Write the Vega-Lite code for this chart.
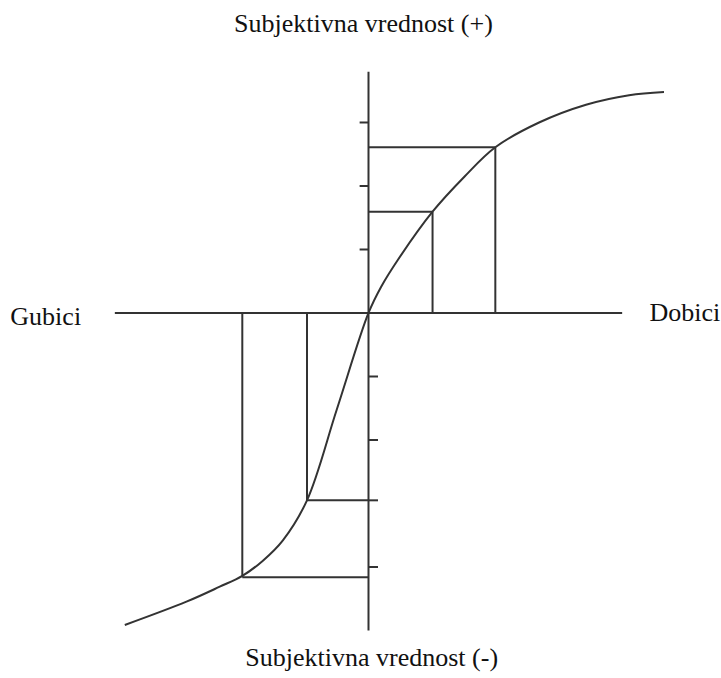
{
  "$schema": "https://vega.github.io/schema/vega-lite/v6.json",
  "width": 721,
  "height": 678,
  "autosize": {"type": "fit", "contains": "padding"},
  "padding": 0,
  "background": "white",
  "config": {"view": {"stroke": null}},
  "datasets": {
    "segs": [
      {"x1": -4.0, "y1": 0, "x2": 4.0, "y2": 0},
      {"x1": 0, "y1": 3.8, "x2": 0, "y2": -5.0},
      {"x1": -0.14, "y1": 1, "x2": 0, "y2": 1},
      {"x1": -0.14, "y1": 2, "x2": 0, "y2": 2},
      {"x1": -0.14, "y1": 3, "x2": 0, "y2": 3},
      {"x1": 0, "y1": -1, "x2": 0.15, "y2": -1},
      {"x1": 0, "y1": -2, "x2": 0.15, "y2": -2},
      {"x1": 0, "y1": -2.95, "x2": 0.15, "y2": -2.95},
      {"x1": 0, "y1": -4, "x2": 0.15, "y2": -4},
      {"x1": 0, "y1": 1.595, "x2": 1.01, "y2": 1.595},
      {"x1": 1.01, "y1": 1.595, "x2": 1.01, "y2": 0},
      {"x1": 0, "y1": 2.61, "x2": 2.0, "y2": 2.61},
      {"x1": 2.0, "y1": 2.61, "x2": 2.0, "y2": 0},
      {"x1": -0.97, "y1": 0, "x2": -0.97, "y2": -2.95},
      {"x1": -0.97, "y1": -2.95, "x2": 0, "y2": -2.95},
      {"x1": -1.99, "y1": 0, "x2": -1.99, "y2": -4.16},
      {"x1": -1.99, "y1": -4.16, "x2": 0, "y2": -4.16}
    ],
    "curve": [
      {"x": -3.843, "y": -4.913},
      {"x": -2.871, "y": -4.546},
      {"x": -2.346, "y": -4.31},
      {"x": -1.99, "y": -4.14},
      {"x": -1.665, "y": -3.9},
      {"x": -1.35, "y": -3.58},
      {"x": -0.97, "y": -2.95},
      {"x": -0.5, "y": -1.52},
      {"x": 0.0, "y": 0.0},
      {"x": 0.2, "y": 0.414},
      {"x": 0.462, "y": 0.835},
      {"x": 1.01, "y": 1.595},
      {"x": 1.512, "y": 2.146},
      {"x": 2.0, "y": 2.61},
      {"x": 2.69, "y": 3.0},
      {"x": 3.43, "y": 3.28},
      {"x": 4.11, "y": 3.43},
      {"x": 4.66, "y": 3.48}
    ],
    "labels": [
      {"label": "Subjektivna vrednost (+)", "x": -0.08, "y": 4.55, "align": "center"},
      {"label": "Subjektivna vrednost (-)", "x": 0.05, "y": -5.43, "align": "center"},
      {"label": "Gubici", "x": -5.09, "y": -0.06, "align": "center"},
      {"label": "Dobici", "x": 4.43, "y": 0.0, "align": "left"}
    ]
  },
  "layer": [
    {
      "data": {"name": "segs"},
      "mark": {"type": "rule", "color": "#333333", "strokeWidth": 2},
      "encoding": {
        "x": {"field": "x1", "type": "quantitative", "scale": {"domain": [-5.811, 5.543], "nice": false, "zero": false}, "axis": null},
        "y": {"field": "y1", "type": "quantitative", "scale": {"domain": [-5.748, 4.929], "nice": false, "zero": false}, "axis": null},
        "x2": {"field": "x2"},
        "y2": {"field": "y2"}
      }
    },
    {
      "data": {"name": "curve"},
      "mark": {"type": "line", "color": "#333333", "strokeWidth": 2, "interpolate": "catmull-rom"},
      "encoding": {
        "x": {"field": "x", "type": "quantitative", "scale": {"domain": [-5.811, 5.543], "nice": false, "zero": false}, "axis": null},
        "y": {"field": "y", "type": "quantitative", "scale": {"domain": [-5.748, 4.929], "nice": false, "zero": false}, "axis": null},
        "order": {"field": "x", "type": "quantitative"}
      }
    },
    {
      "data": {"name": "labels"},
      "transform": [{"filter": "datum.align === 'center'"}],
      "mark": {"type": "text", "font": "Liberation Serif", "fontSize": 26, "color": "#111111", "align": "center", "baseline": "middle"},
      "encoding": {
        "x": {"field": "x", "type": "quantitative", "scale": {"domain": [-5.811, 5.543], "nice": false, "zero": false}, "axis": null},
        "y": {"field": "y", "type": "quantitative", "scale": {"domain": [-5.748, 4.929], "nice": false, "zero": false}, "axis": null},
        "text": {"field": "label"}
      }
    },
    {
      "data": {"name": "labels"},
      "transform": [{"filter": "datum.align === 'left'"}],
      "mark": {"type": "text", "font": "Liberation Serif", "fontSize": 26, "color": "#111111", "align": "left", "baseline": "middle"},
      "encoding": {
        "x": {"field": "x", "type": "quantitative", "scale": {"domain": [-5.811, 5.543], "nice": false, "zero": false}, "axis": null},
        "y": {"field": "y", "type": "quantitative", "scale": {"domain": [-5.748, 4.929], "nice": false, "zero": false}, "axis": null},
        "text": {"field": "label"}
      }
    }
  ]
}
